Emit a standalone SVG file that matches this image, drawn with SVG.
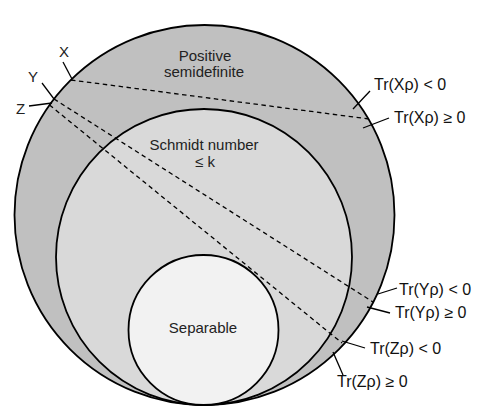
<svg xmlns="http://www.w3.org/2000/svg" width="484" height="420" viewBox="0 0 484 420">
<style>
.circ{stroke:#000;stroke-width:1.8}
.t{font-family:"Liberation Sans",Arial,sans-serif;font-size:15px;fill:#222;text-anchor:middle}
.lab{font-family:"Liberation Sans",Arial,sans-serif;font-size:16px;fill:#111}
.dash{stroke:#000;stroke-width:1.3;stroke-dasharray:4.5,3.5;fill:none}
.lead{stroke:#000;stroke-width:1.3;fill:none}
</style>
<rect width="484" height="420" fill="#fff"/>
<g id="psd">
<circle class="circ" cx="204.5" cy="215" r="190" fill="#c0c0c0"/>
<text class="t" x="205" y="61">Positive</text>
<text class="t" x="204" y="77">semidefinite</text>
</g>
<g id="schmidt">
<circle class="circ" cx="204" cy="257" r="148" fill="#d9d9d9"/>
<text class="t" x="204" y="150">Schmidt number</text>
<text class="t" x="205" y="167">≤ k</text>
</g>
<g id="separable">
<circle class="circ" cx="203.5" cy="330" r="75" fill="#f2f2f2"/>
<text class="t" x="203" y="333">Separable</text>
</g>
<g id="connectors">
<line class="dash" x1="71" y1="80" x2="369" y2="119"/>
<line class="dash" x1="54" y1="99" x2="373" y2="302"/>
<line class="dash" x1="49.5" y1="105" x2="342" y2="343"/>
<line class="lead" x1="63" y1="62" x2="72" y2="79"/>
<line class="lead" x1="42" y1="83" x2="54" y2="99"/>
<line class="lead" x1="29" y1="106" x2="52" y2="103"/>
<line class="lead" x1="370" y1="91" x2="353" y2="109"/>
<line class="lead" x1="389" y1="118" x2="363" y2="128"/>
<line class="lead" x1="397" y1="288" x2="378" y2="294"/>
<line class="lead" x1="390" y1="313" x2="367" y2="307"/>
<line class="lead" x1="365" y1="348" x2="342" y2="341"/>
<line class="lead" x1="343" y1="375" x2="333" y2="352"/>
</g>
<g id="labels">
<text class="t" x="64" y="57">X</text>
<text class="t" x="33" y="82">Y</text>
<text class="t" x="20.5" y="114">Z</text>
<text class="lab" x="374" y="90">Tr(Xρ) &lt; 0</text>
<text class="lab" x="394" y="123">Tr(Xρ) ≥ 0</text>
<text class="lab" x="399" y="295">Tr(Yρ) &lt; 0</text>
<text class="lab" x="395" y="318">Tr(Yρ) ≥ 0</text>
<text class="lab" x="370" y="354">Tr(Zρ) &lt; 0</text>
<text class="lab" x="337" y="387">Tr(Zρ) ≥ 0</text>
</g>
</svg>
